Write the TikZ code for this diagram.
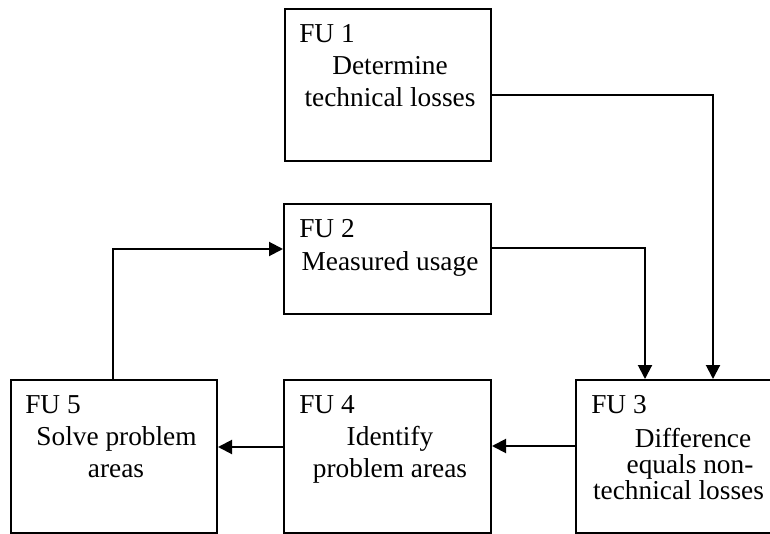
\documentclass[tikz,border=0pt]{standalone}
\usepackage{fontspec}
\setmainfont{Liberation Serif}
\usetikzlibrary{arrows.meta,calc}

\tikzset{
  fubox/.style={draw=black, line width=1.5pt, rectangle, inner sep=0pt},
  fulabel/.style={anchor=base west, inner sep=0pt, font=\fontsize{20.5}{24}\selectfont},
  fuline/.style={anchor=base, inner sep=0pt, font=\fontsize{20.5}{24}\selectfont},
  conn/.style={draw=black, line width=1.5pt, -{Triangle[length=10.5pt,width=10.5pt]}},
}

\begin{document}
\begin{tikzpicture}[x=0.75pt, y=-0.75pt]
  \path[use as bounding box, clip] (0,0) rectangle (770,534);

  % function unit boxes
  \node[fubox, minimum width=154.5pt, minimum height=114pt] (fu1) at (388,85) {};
  \node[fubox, minimum width=155.25pt, minimum height=82.5pt] (fu2) at (387.5,259) {};
  \node[fubox, minimum width=154.5pt, minimum height=114.75pt] (fu5) at (114,456.5) {};
  \node[fubox, minimum width=155.25pt, minimum height=114.75pt] (fu4) at (387.5,456.5) {};
  \node[fubox, minimum width=155.25pt, minimum height=114.75pt] (fu3) at (679.5,456.5) {};

  % box texts
  \node[fulabel] (t1a) at (299,43) {FU 1};
  \node[fuline]  (t1b) at (390,75) {Determine};
  \node[fuline]  (t1c) at (390,107) {technical losses};

  \node[fulabel] (t2a) at (299,238) {FU 2};
  \node[fuline]  (t2b) at (390,271) {Measured usage};

  \node[fulabel] (t5a) at (25,413) {FU 5};
  \node[fuline]  (t5b) at (116.5,445) {Solve problem};
  \node[fuline]  (t5c) at (116,477) {areas};

  \node[fulabel] (t4a) at (299,413) {FU 4};
  \node[fuline]  (t4b) at (390,445) {Identify};
  \node[fuline]  (t4c) at (390,477) {problem areas};

  \node[fulabel] (t3a) at (591,413) {FU 3};
  \node[fuline]  (t3b) at (693,447) {Difference};
  \node[fuline]  (t3c) at (690,473) {equals non-};
  \node[fuline]  (t3d) at (678.5,499) {technical losses};

  % connectors
  \draw[conn] ($(fu1.east)+(0,10)$) -| ($(fu3.north)+(33.5,0)$);
  \draw[conn] ($(fu2.east)+(0,-11)$) -| ($(fu3.north)+(-34.5,0)$);
  \draw[conn] ($(fu3.west)+(0,-10.5)$) -- ($(fu4.east)+(0,-10.5)$);
  \draw[conn] ($(fu4.west)+(0,-9.5)$) -- ($(fu5.east)+(0,-9.5)$);
  \draw[conn] ($(fu5.north)+(-1,0)$) |- ($(fu2.west)+(0,-10)$);
\end{tikzpicture}
\end{document}
